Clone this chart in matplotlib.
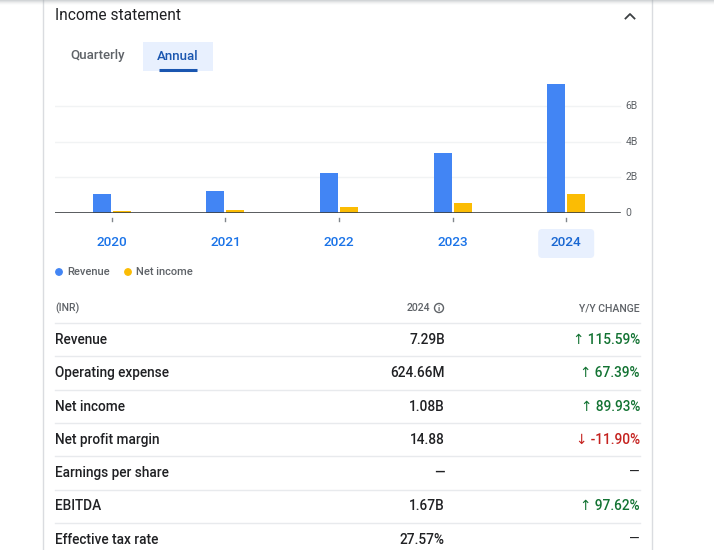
import matplotlib
matplotlib.use("Agg")
import matplotlib.pyplot as plt
from matplotlib.patches import FancyBboxPatch, Circle

plt.rcParams["font.family"] = ["Roboto", "DejaVu Sans"]

# ---------------- data ----------------
years = ["2020", "2021", "2022", "2023", "2024"]
revenue = [1.07, 1.24, 2.25, 3.38, 7.29]      # B INR
net_income = [0.11, 0.15, 0.34, 0.57, 1.08]   # B INR
yticks = [0, 2, 4, 6]
ytick_labels = ["0", "2B", "4B", "6B"]

row_labels = ["Revenue", "Operating expense", "Net income", "Net profit margin",
              "Earnings per share", "EBITDA", "Effective tax rate"]
row_values = ["7.29B", "624.66M", "1.08B", "14.88", "—", "1.67B", "27.57%"]
row_changes = ["115.59%", "67.39%", "89.93%", "-11.90%", "—", "97.62%", "—"]

BLUE = "#4285f4"
YELLOW = "#fbbc04"
TXT = "#202124"
GREY = "#5f6368"
LINE = "#e8eaed"
MED = "medium"

W, H = 714, 550
fig = plt.figure(figsize=(W / 100, H / 100), dpi=100)

# overlay in pixel coordinates (origin top-left)
bg = fig.add_axes([0, 0, 1, 1])
bg.set_xlim(0, W); bg.set_ylim(H, 0); bg.axis("off")

# card borders and top shadow
for x in (43, 652):
    bg.plot([x, x], [0, H], color="#dadce0", lw=1)
for i, a in enumerate([0.35, 0.25, 0.15, 0.08, 0.04]):
    bg.plot([0, W], [i, i], color="#9aa0a6", alpha=a, lw=1.2)

bg.text(55, 16, "Income statement", fontsize=11.2, color=TXT, va="center")
bg.plot([625.5, 630, 634.5], [18.5, 14, 18.5], color="#3c4043", lw=1.3)

# tabs
bg.text(70, 56, "Quarterly", fontsize=9.5, color=GREY, va="center", weight=MED)
bg.add_patch(FancyBboxPatch((143, 42), 70, 29, boxstyle="square,pad=0",
                            fc="#e8f0fe", ec="none"))
bg.text(178, 56, "Annual", fontsize=9.5, color="#1a56b0", va="center", ha="center", weight=MED)
bg.plot([159, 197], [69.5, 69.5], color="#1a56b0", lw=2.2, solid_capstyle="butt")

# ---------------- chart ----------------
ax_l, ax_r, ax_t, ax_b = 55, 623, 75, 213
ax = fig.add_axes([ax_l / W, 1 - ax_b / H, (ax_r - ax_l) / W, (ax_b - ax_t) / H])
ax.set_xlim(-0.5, 4.5)
ax.set_ylim(0, (ax_b - ax_t) / 17.75)
ax.axis("off")
x = range(len(years))
bw = 0.158
off = 0.088
for yv in yticks[1:]:
    ax.axhline(yv, color="#f1f3f4", lw=1, xmax=(620 - ax_l) / (ax_r - ax_l), zorder=0)
ax.bar([i - off for i in x], revenue, width=bw, color=BLUE, zorder=2)
ax.bar([i + off for i in x], net_income, width=bw, color=YELLOW, zorder=2)
ax.axhline(0, color="#3c4043", lw=1.2, xmax=(620 - ax_l) / (ax_r - ax_l), zorder=3)
for i in x:
    ax.plot([i, i], [-0.3, -0.45], color="#80868b", lw=1, clip_on=False)
for yv, lab in zip(yticks, ytick_labels):
    ax.text(4.52, yv, lab, fontsize=7.5, color=GREY, va="center", ha="left",
            transform=ax.transData, clip_on=False)

# year labels under chart
for i, yr in enumerate(years):
    cx = ax_l + (i + 0.5) * (ax_r - ax_l) / len(years)
    col = "#1a73e8"
    if i == len(years) - 1:
        bg.add_patch(FancyBboxPatch((cx - 28, 229), 56, 29,
                                    boxstyle="round,pad=0,rounding_size=4",
                                    fc="#e8f0fe", ec="none"))
        col = "#1967d2"
    bg.text(cx, 243, yr, fontsize=9.7, color=col, ha="center", va="center", weight=MED)

# legend
bg.add_patch(Circle((59, 272), 3.2, color=BLUE))
bg.text(67, 272, "Revenue", fontsize=8, color=GREY, va="center", weight=MED)
bg.add_patch(Circle((128, 272), 3.2, color=YELLOW))
bg.text(136, 272, "Net income", fontsize=8, color=GREY, va="center", weight=MED)

# ---------------- table ----------------
bg.text(55, 308, "(INR)", fontsize=7.6, color=GREY, va="center", weight=MED)
bg.text(430, 308, "2024", fontsize=7.6, color=GREY, va="center", ha="right", weight=MED)
bg.add_patch(Circle((439, 308), 4.5, fc="none", ec=GREY, lw=1))
bg.text(439, 308.5, "i", fontsize=6, color=GREY, va="center", ha="center", weight="bold")
bg.text(640, 308, "Y/Y CHANGE", fontsize=7.6, color=GREY, va="center", ha="right", weight=MED)

row_y0, row_h = 340, 33.3
for k, (lab, val, chg) in enumerate(zip(row_labels, row_values, row_changes)):
    yy = row_y0 + k * row_h
    bg.plot([55, 640], [yy - 17, yy - 17], color=LINE, lw=1)
    bg.text(55, yy, lab, fontsize=9.8, color=TXT, va="center", weight=MED)
    bg.text(445, yy, val, fontsize=9.8, color=TXT, va="center", ha="right", weight=MED)
    if chg == "—":
        bg.text(640, yy, chg, fontsize=9.8, color=TXT, va="center", ha="right")
    elif chg.startswith("-"):
        bg.text(640, yy, "↓ " + chg, fontsize=9.8, color="#c5221f", va="center", ha="right", weight=MED)
    else:
        bg.text(640, yy, "↑ " + chg, fontsize=9.8, color="#137333", va="center", ha="right", weight=MED)

fig.savefig("out.png", dpi=100, facecolor="white")
